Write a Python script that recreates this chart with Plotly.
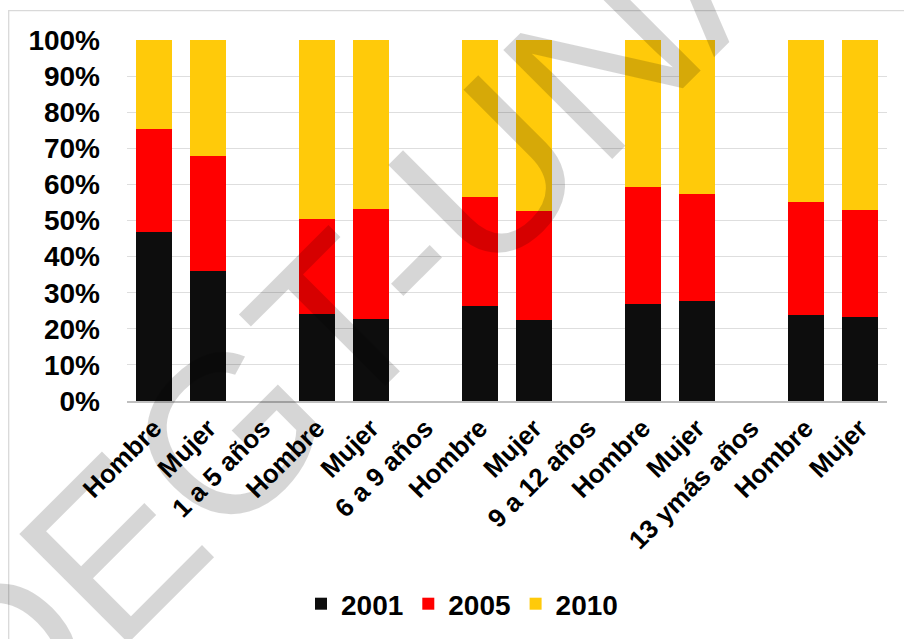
import plotly.graph_objects as go

# Category labels along the x axis (group names sit between the bar pairs)
labels = ["Hombre", "Mujer", "1 a 5 años", "Hombre", "Mujer", "6 a 9 años",
          "Hombre", "Mujer", "9 a 12 años", "Hombre", "Mujer", "13 ymás años",
          "Hombre", "Mujer"]

# Shares (fraction of 100%); None = no bar
y2001 = [0.469, 0.361, None, 0.242, 0.228, None, 0.264, 0.225, None, 0.270, 0.278, None, 0.237, 0.234]
y2005 = [0.284, 0.318, None, 0.262, 0.305, None, 0.302, 0.302, None, 0.323, 0.296, None, 0.315, 0.296]
y2010 = [0.247, 0.321, None, 0.496, 0.467, None, 0.434, 0.473, None, 0.407, 0.426, None, 0.448, 0.470]

series = [("2001", y2001, "#0d0d0d"), ("2005", y2005, "#ff0000"), ("2010", y2010, "#ffca0a")]

FONT = "Liberation Sans, Arial, sans-serif"
xpos = list(range(len(labels)))

fig = go.Figure()
for name, vals, col in series:
    fig.add_trace(go.Bar(x=xpos, y=vals, name=name, marker=dict(color=col, line=dict(width=0))))

W, H = 904, 639
L, R, T, B = 127, 17, 40, 238
pw, ph = W - L - R, H - T - B

def px(x):
    return (x - L) / pw

def py(y):
    return (H - B - y) / ph

fig.update_layout(
    width=W, height=H,
    barmode="stack", bargap=0.337,
    plot_bgcolor="white", paper_bgcolor="white",
    margin=dict(l=L, r=R, t=T, b=B, autoexpand=False),
    font=dict(family=FONT, color="black"),
    showlegend=True,
    legend=dict(orientation="h", x=px(462), xanchor="center", y=py(604), yanchor="middle",
                font=dict(family=FONT, size=28, weight="bold", color="black"),
                traceorder="normal", itemwidth=30, bgcolor="rgba(0,0,0,0)"),
    xaxis=dict(tickmode="array", tickvals=xpos, ticktext=labels, tickangle=-45,
               range=[-0.5, len(labels) - 0.5],
               tickfont=dict(family=FONT, size=26, weight="bold", color="black"),
               showline=True, linecolor="#bfbfbf", linewidth=1.5, showgrid=False,
               ticks="", zeroline=False),
    yaxis=dict(range=[0, 1], dtick=0.1, tickformat=".0%",
               tickfont=dict(family=FONT, size=28, weight="bold", color="black"),
               showgrid=True, gridcolor="#dedede", gridwidth=1, zeroline=False,
               ticks="", ticklabelstandoff=26, showline=False),
)

# chart-area border (extends beyond the visible picture on the right/bottom)
fig.add_shape(type="rect", xref="paper", yref="paper",
              x0=px(8.7), y0=py(10.7), x1=px(W + 30), y1=py(H + 30),
              line=dict(color="#d9d9d9", width=1.3), fillcolor="rgba(0,0,0,0)", layer="below")

# watermark
fig.add_annotation(text="DEGT-UNAM", xref="paper", yref="paper",
                   x=px(421), y=py(240), xanchor="center", yanchor="middle",
                   textangle=-45, showarrow=False,
                   font=dict(family=FONT, size=224, color="rgba(0,0,0,0.16)"))

fig.write_html("out.html", config={"displayModeBar": False},
               post_script="document.body.style.margin='0';document.body.style.overflow='hidden';")
